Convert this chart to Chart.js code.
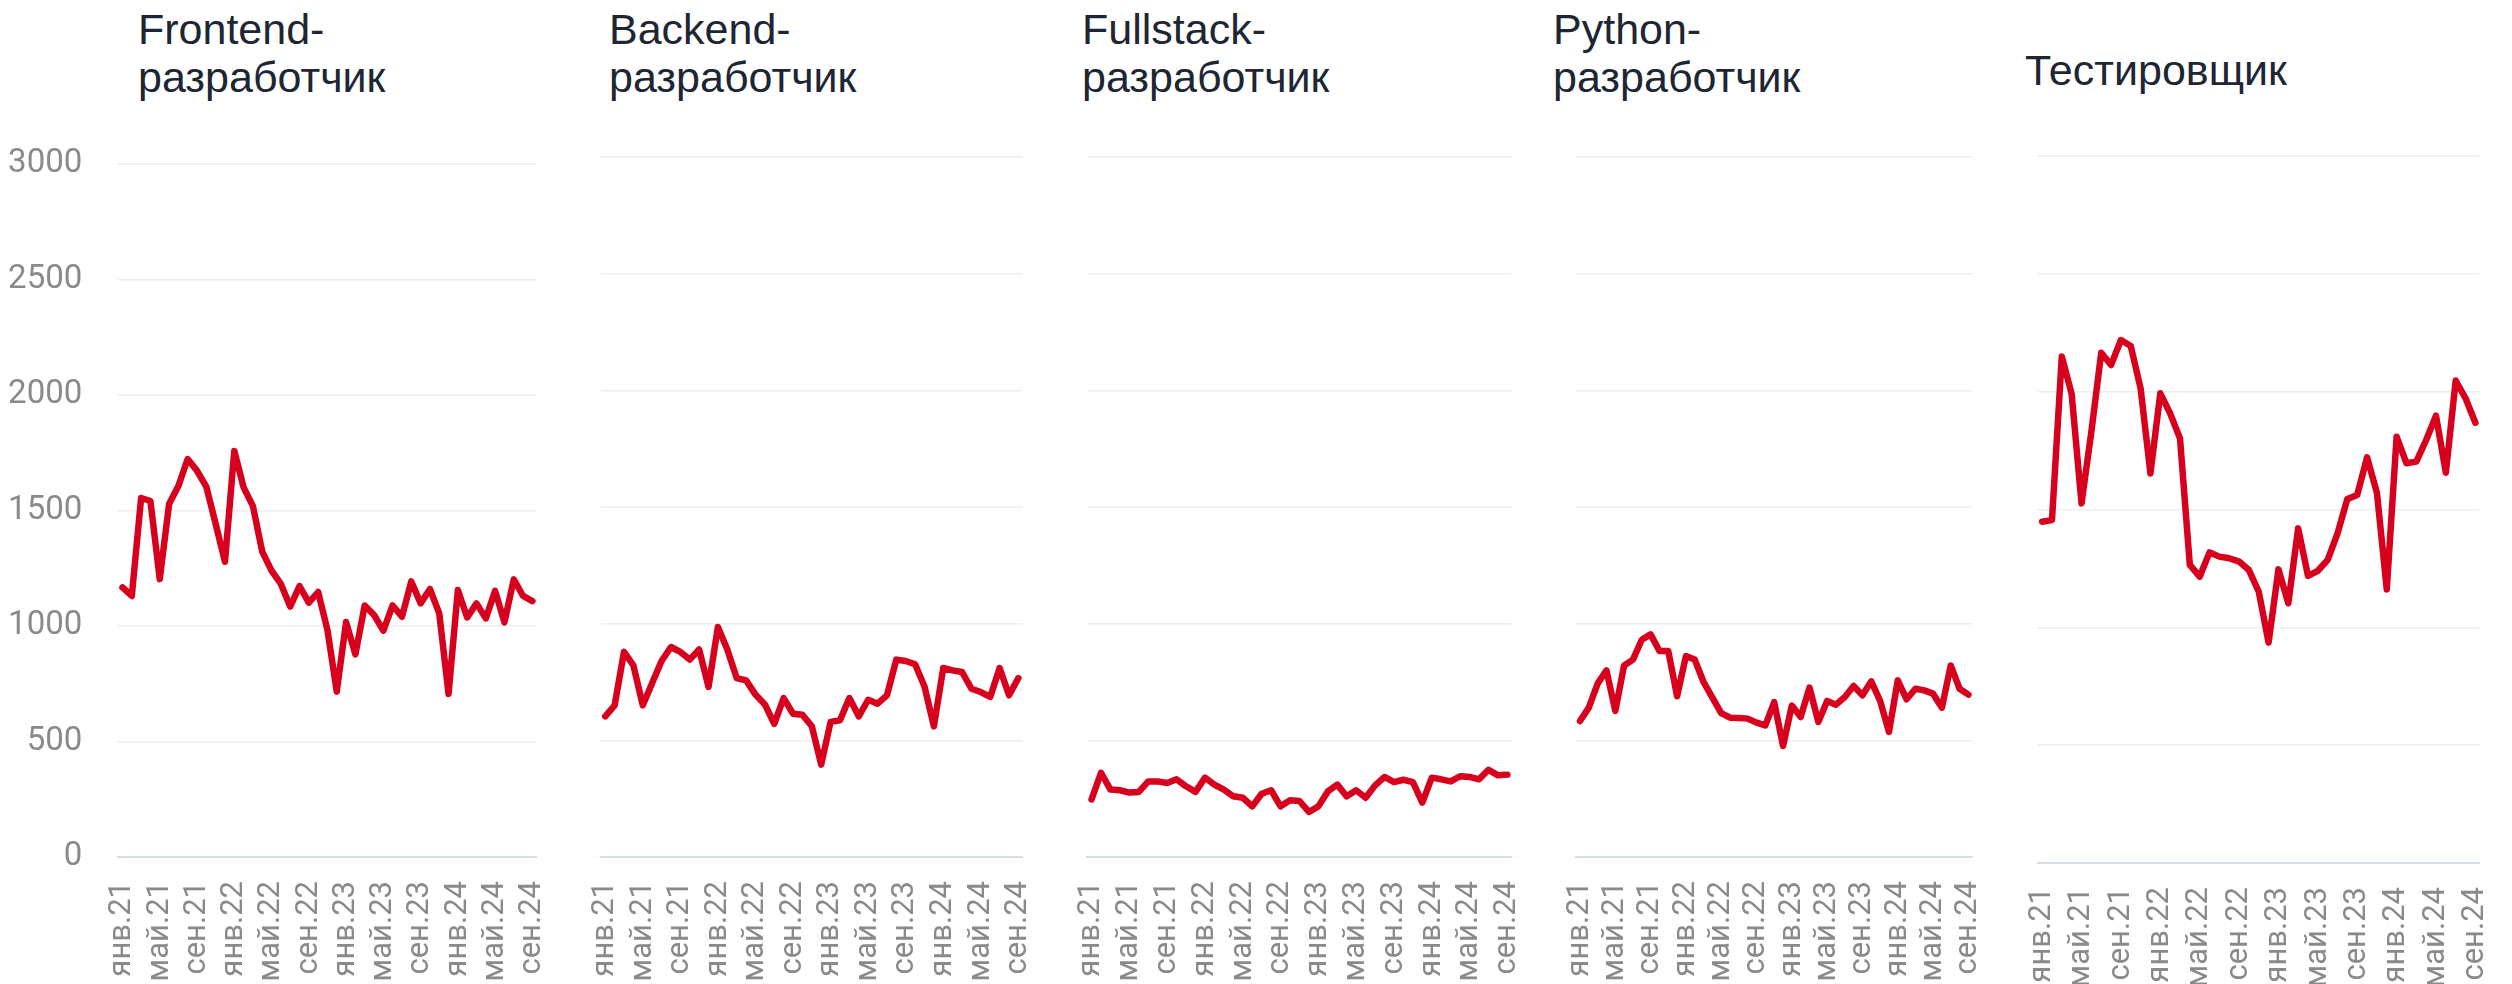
<!DOCTYPE html>
<html lang="ru">
<head>
<meta charset="utf-8">
<title>Вакансии по специальностям</title>
<script src="https://cdn.jsdelivr.net/npm/chart.js@4.4.1/dist/chart.umd.min.js"></script>
<style>
    html, body { margin: 0; padding: 0; background: #fff; }
    body { width: 2512px; height: 984px; position: relative; overflow: hidden; }
    canvas.panel { position: absolute; top: 0; }
    .title {
        position: absolute;
        font: 43px/48px "Liberation Sans", Arial, sans-serif;
        color: #1e2533;
        white-space: nowrap;
    }
</style>
</head>
<body>
<div class="title" style="left:138px; top:5px;">Frontend-<br>разработчик</div>
<div class="title" style="left:609px; top:5px;">Backend-<br>разработчик</div>
<div class="title" style="left:1082px; top:5px;">Fullstack-<br>разработчик</div>
<div class="title" style="left:1553px; top:5px;">Python-<br>разработчик</div>
<div class="title" style="left:2025px; top:46px;">Тестировщик</div>

<canvas class="panel" id="chart0"></canvas>
<canvas class="panel" id="chart1"></canvas>
<canvas class="panel" id="chart2"></canvas>
<canvas class="panel" id="chart3"></canvas>
<canvas class="panel" id="chart4"></canvas>

<script>
// months jan.21 .. sep.24
const months = [
    'янв.21','фев.21','мар.21','апр.21','май.21','июн.21','июл.21','авг.21','сен.21','окт.21','ноя.21','дек.21',
    'янв.22','фев.22','мар.22','апр.22','май.22','июн.22','июл.22','авг.22','сен.22','окт.22','ноя.22','дек.22',
    'янв.23','фев.23','мар.23','апр.23','май.23','июн.23','июл.23','авг.23','сен.23','окт.23','ноя.23','дек.23',
    'янв.24','фев.24','мар.24','апр.24','май.24','июн.24','июл.24','авг.24','сен.24'
];
const tickMonths = [0, 4, 8, 12, 16, 20, 24, 28, 32, 36, 40, 44];
const yTicks = [0, 500, 1000, 1500, 2000, 2500, 3000];

const frontend = [1167, 1130, 1554, 1541, 1203, 1528, 1606, 1723, 1672, 1603, 1442, 1278,
    1758, 1600, 1519, 1322, 1240, 1182, 1084, 1173, 1101, 1147, 983, 716,
    1017, 877, 1089, 1048, 980, 1089, 1040, 1193, 1098, 1160, 1055, 706,
    1156, 1037, 1098, 1033, 1152, 1016, 1202, 1130, 1108];
const backend = [603, 650, 879, 821, 650, 746, 840, 900, 879, 846, 889, 729,
    986, 889, 767, 757, 696, 654, 571, 681, 614, 610, 560, 396,
    579, 586, 681, 603, 674, 657, 693, 846, 840, 826, 731, 560,
    810, 800, 793, 721, 707, 686, 810, 693, 767];
const fullstack = [247, 361, 289, 286, 276, 279, 324, 324, 317, 333, 303, 279,
    340, 310, 289, 260, 254, 217, 271, 286, 217, 243, 240, 193,
    217, 281, 310, 260, 286, 254, 307, 343, 321, 331, 321, 233,
    340, 333, 324, 346, 343, 333, 374, 350, 353];
const python = [583, 640, 743, 800, 626, 821, 846, 931, 954, 883, 883, 689,
    861, 846, 750, 683, 617, 597, 596, 593, 576, 564, 664, 476,
    649, 600, 726, 579, 669, 653, 686, 733, 693, 753, 669, 536,
    757, 676, 721, 714, 700, 640, 821, 721, 696];
const testers = [1448, 1455, 2149, 1990, 1526, 1830, 2165, 2113, 2219, 2194, 2014, 1653,
    1993, 1908, 1802, 1265, 1215, 1318, 1300, 1293, 1279, 1243, 1151, 935,
    1246, 1102, 1420, 1218, 1240, 1286, 1399, 1545, 1562, 1721, 1571, 1161,
    1809, 1696, 1703, 1795, 1898, 1656, 2047, 1972, 1868];

// plot area of each small chart on the page
const panels = [
    { values: frontend,  left: 118.3,  right: 553.3,  top: 164, bottom: 857, showY: true },
    { values: backend,   left: 601,    right: 1039.3, top: 157, bottom: 857 },
    { values: fullstack, left: 1087.3, right: 1528.3, top: 157, bottom: 857 },
    { values: python,    left: 1576,   right: 1989.3, top: 157, bottom: 857 },
    { values: testers,   left: 2037.7, right: 2496.7, top: 156, bottom: 863 }
];

const LINE_RED = '#d7001d';
const TICK_GREY = '#8a8a8a';
const H = 984;
const SIDE = 40;

Chart.defaults.font.family = 'Roboto, "Liberation Sans", Arial, sans-serif';

function buildChart(panel, idx) {
    const canvas = document.getElementById('chart' + idx);
    const canvasLeft = panel.showY ? 0 : Math.floor(panel.left - SIDE);
    const width = Math.ceil(panel.right + SIDE - canvasLeft);
    canvas.width = width;
    canvas.height = H;
    canvas.style.width = width + 'px';
    canvas.style.height = H + 'px';
    canvas.style.left = canvasLeft + 'px';

    const points = panel.values.map((v, i) => ({ x: i, y: v }));
    const yAxisWidth = panel.showY ? panel.left : 0;

    return new Chart(canvas.getContext('2d'), {
        type: 'line',
        data: {
            datasets: [{
                data: points,
                borderColor: LINE_RED,
                borderWidth: 6.5,
                borderJoinStyle: 'round',
                borderCapStyle: 'round',
                pointRadius: 0,
                tension: 0,
                fill: false
            }]
        },
        options: {
            responsive: false,
            animation: false,
            devicePixelRatio: 1,
            layout: {
                padding: {
                    left: panel.showY ? 0 : panel.left - canvasLeft,
                    right: canvasLeft + width - panel.right,
                    top: panel.top,
                    bottom: 0
                }
            },
            plugins: {
                legend: { display: false },
                tooltip: { enabled: false },
                title: { display: false }
            },
            scales: {
                x: {
                    type: 'linear',
                    min: -0.45,
                    max: months.length - 1 + 0.45,
                    grid: { display: false, drawTicks: false },
                    border: { display: true, color: '#d5dce7', width: 2 },
                    afterBuildTicks: (scale) => {
                        scale.ticks = tickMonths.map(v => ({ value: v }));
                    },
                    afterFit: (scale) => {
                        scale.height = H - panel.bottom;
                    },
                    ticks: {
                        autoSkip: false,
                        minRotation: 90,
                        maxRotation: 90,
                        padding: 24,
                        color: TICK_GREY,
                        font: { size: 31 },
                        callback: (value) => months[value]
                    }
                },
                y: {
                    min: 0,
                    max: 3000,
                    afterBuildTicks: (scale) => {
                        scale.ticks = yTicks.map(v => ({ value: v }));
                    },
                    afterFit: (scale) => {
                        scale.width = yAxisWidth;
                    },
                    grid: { color: '#eeeeee', lineWidth: 1.5, drawTicks: false },
                    border: { display: false },
                    ticks: {
                        display: !!panel.showY,
                        padding: 36,
                        color: TICK_GREY,
                        font: { size: 33 },
                        callback: (value) => String(value)
                    }
                }
            }
        }
    });
}

document.addEventListener('DOMContentLoaded', () => {
    panels.forEach((p, i) => buildChart(p, i));
});
</script>
</body>
</html>
